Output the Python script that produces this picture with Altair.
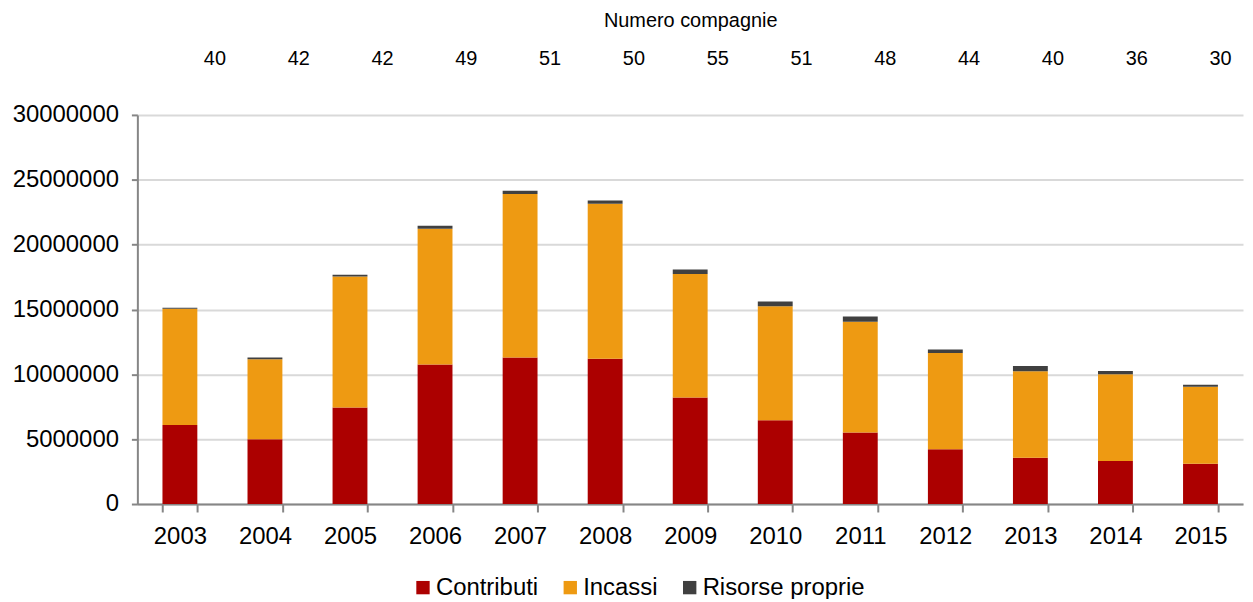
import json
import altair as alt
import pandas as pd

anni = ["2003", "2004", "2005", "2006", "2007", "2008", "2009",
        "2010", "2011", "2012", "2013", "2014", "2015"]
contributi = [6100000, 5000000, 7450000, 10760000, 11300000, 11200000, 8210000,
              6450000, 5510000, 4230000, 3570000, 3310000, 3110000]
incassi = [8950000, 6170000, 10100000, 10460000, 12600000, 11960000, 9520000,
           8800000, 8540000, 7420000, 6660000, 6690000, 5940000]
risorse = [80000, 130000, 120000, 230000, 250000, 250000, 350000,
           360000, 410000, 260000, 410000, 250000, 150000]
compagnie = [40, 42, 42, 49, 51, 50, 55, 51, 48, 44, 40, 36, 30]

serie = ["Contributi", "Incassi", "Risorse proprie"]
colori = ["#AC0000", "#EE9A12", "#404040"]
y_ticks = [0, 5000000, 10000000, 15000000, 20000000, 25000000, 30000000]

rows = []
for i, a in enumerate(anni):
    for k, (nome, vals) in enumerate(zip(serie, [contributi, incassi, risorse])):
        rows.append({"Anno": a, "Serie": nome, "Valore": vals[i], "ordine": k})
df = pd.DataFrame(rows)
df_top = pd.DataFrame({"Anno": anni, "Compagnie": compagnie})

mappa = json.dumps({a: str(c) for a, c in zip(anni, compagnie)})

bars = alt.Chart(df).mark_bar().encode(
    x=alt.X("Anno:N", sort=anni,
            scale=alt.Scale(paddingInner=0.59, paddingOuter=0.295),
            axis=alt.Axis(title=None, labelAngle=0, tickBand="extent",
                          labelFontSize=24, labelPadding=13, tickSize=8,
                          tickColor="#868686", domainColor="#868686",
                          domainWidth=2, tickWidth=2, labelColor="#000000")),
    y=alt.Y("Valore:Q", stack="zero",
            scale=alt.Scale(domain=[0, 30000000]),
            axis=alt.Axis(title=None, values=y_ticks, format="d",
                          labelFontSize=24, labelPadding=13, tickSize=6,
                          tickColor="#868686", domainColor="#868686",
                          domainWidth=2, tickWidth=2,
                          gridColor="#D9D9D9", gridWidth=2,
                          labelColor="#000000")),
    color=alt.Color("Serie:N",
                    scale=alt.Scale(domain=serie, range=colori),
                    legend=alt.Legend(title=None, orient="none",
                                      legendX=275, legendY=463,
                                      direction="horizontal",
                                      symbolType="square", symbolSize=180,
                                      symbolStrokeWidth=0,
                                      labelFontSize=24, columnPadding=20,
                                      labelOffset=1, labelLimit=0,
                                      labelColor="#000000")),
    order=alt.Order("ordine:Q", sort="ascending"),
)

top = alt.Chart(df_top).mark_point(opacity=0).encode(
    x=alt.X("Anno:N", sort=anni,
            scale=alt.Scale(type="point", padding=0.597, align=0.77),
            axis=alt.Axis(orient="top", title="Numero compagnie",
                          titleFontSize=20, titleFontWeight="normal",
                          titlePadding=18, titleColor="#000000",
                          labelExpr=f"{mappa}[datum.value]",
                          labelFontSize=20, labelPadding=47,
                          labelAngle=0, domain=False, ticks=False,
                          grid=False, labelColor="#000000")),
)

chart = alt.layer(bars, top).resolve_scale(x="independent").properties(
    width=1111, height=391,
    padding={"left": 130, "top": 106, "right": 2, "bottom": 94},
    autosize=alt.AutoSizeParams(type="none"),
).configure(font="Liberation Sans").configure_view(stroke=None)

chart.save("out.html", embed_options={"renderer": "svg", "actions": False})
